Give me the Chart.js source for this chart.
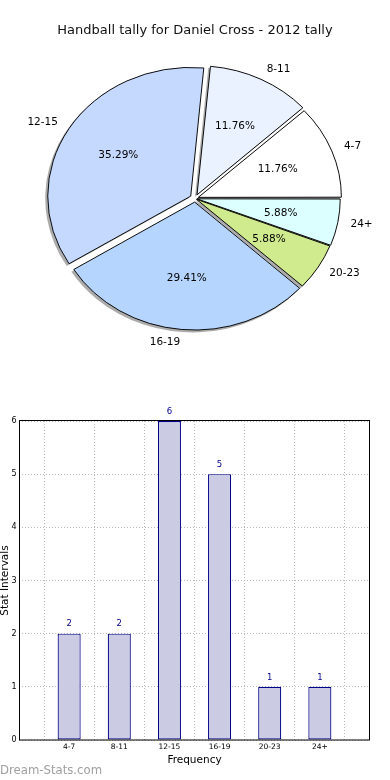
<!DOCTYPE html>
<html><head><meta charset="utf-8">
<script src="https://cdn.jsdelivr.net/npm/chart.js@4.4.0/dist/chart.umd.min.js"></script>
<style>
html,body{margin:0;padding:0;background:#fff;width:390px;height:780px;overflow:hidden;font-family:"DejaVu Sans",sans-serif}
#pieBox{position:absolute;left:0;top:0;width:390px;height:397px}
#title{position:absolute;left:0;top:21px;width:390px;text-align:center;font-size:13px;color:#111;line-height:18px}
#barBox{position:absolute;left:0;top:400px;width:390px;height:380px}
#wm{position:absolute;left:0;top:762px;font-size:11.7px;color:#a0a0a0;line-height:16px}
</style></head><body>
<div id="pieBox"><canvas id="pie"></canvas></div>
<div id="title">Handball tally for Daniel Cross - 2012 tally</div>
<div id="barBox"><canvas id="bar"></canvas></div>
<div id="wm">Dream-Stats.com</div>
<script>
// ---- data ----
const categories = ['4-7', '8-11', '12-15', '16-19', '20-23', '24+'];
const counts = [2, 2, 6, 5, 1, 1];
const yTicks = [0, 1, 2, 3, 4, 5, 6];
const pieTitle = 'Handball tally for Daniel Cross - 2012 tally';

// ---- styles ----
const FONT = '"DejaVu Sans", sans-serif';
const sliceColors = ['#ffffff', '#ebf2ff', '#c5d9ff', '#b5d5ff', '#d0eb8e', '#dcffff'];
const Y_RATIO = 0.9;
const rev = a => a.slice().reverse();
const total = counts.reduce((a, b) => a + b, 0);

function arcGeom(arc) {
  const p = arc.getProps(['x', 'y', 'startAngle', 'endAngle', 'outerRadius']);
  const off = (arc.options.offset || 0) / 4;
  const mid = (p.startAngle + p.endAngle) / 2;
  const fix = 1 - Math.sin(Math.min(Math.PI, p.endAngle - p.startAngle));
  return {x: p.x, y: p.y, ox: off * Math.cos(mid), oy: off * Math.sin(mid), mid,
          s: p.startAngle, e: p.endAngle, R: p.outerRadius + off * fix, R0: p.outerRadius};
}

const ellipsePlugin = {
  id: 'ellipse',
  beforeDatasetsDraw(chart) {
    const meta = chart.getDatasetMeta(0);
    const ctx = chart.ctx;
    const cx = meta.data[0].x, cy = meta.data[0].y;
    ctx.save();
    ctx.translate(-2, 2);
    ctx.translate(cx, cy); ctx.scale(1, Y_RATIO); ctx.translate(-cx, -cy);
    ctx.fillStyle = 'rgba(70,70,70,0.45)';
    meta.data.forEach(arc => {
      const g = arcGeom(arc);
      const x = g.x + g.ox, y = g.y + g.oy;
      ctx.beginPath(); ctx.moveTo(x, y); ctx.arc(x, y, g.R + 0.5, g.s, g.e); ctx.closePath(); ctx.fill();
    });
    ctx.restore();
    ctx.save();
    ctx.translate(cx, cy); ctx.scale(1, Y_RATIO); ctx.translate(-cx, -cy);
  },
  afterDatasetsDraw(chart) {
    const ctx = chart.ctx;
    ctx.restore();
    const meta = chart.getDatasetMeta(0);
    const n = meta.data.length;
    ctx.save();
    ctx.font = '10.5px ' + FONT;
    ctx.fillStyle = '#000';
    ctx.textBaseline = 'middle';
    meta.data.forEach((arc, i) => {
      const idx = n - 1 - i;
      const g = arcGeom(arc);
      const c = Math.cos(g.mid), s = Math.sin(g.mid);
      const px = g.x + g.ox + 0.6 * g.R0 * c;
      const py = g.y + Y_RATIO * (g.oy + 0.6 * g.R0 * s);
      ctx.textAlign = 'center';
      ctx.fillText((counts[idx] / total * 100).toFixed(2) + '%', px, py);
      const lx = g.x + g.ox + 1.1 * g.R0 * c;
      const ly = g.y + Y_RATIO * (g.oy + 1.1 * g.R0 * s);
      ctx.textAlign = c > 0 ? 'left' : 'right';
      ctx.fillText(categories[idx], lx, ly);
    });
    ctx.restore();
  }
};

new Chart(document.getElementById('pie'), {
  type: 'pie',
  data: {
    labels: rev(categories),
    datasets: [{
      data: rev(counts),
      backgroundColor: rev(sliceColors),
      borderColor: '#000',
      borderWidth: 1,
      borderJoinStyle: 'miter',
      offset: rev([14, 18, 20, 16, 7, 8])
    }]
  },
  options: {
    responsive: true, maintainAspectRatio: false, animation: false, events: [],
    rotation: 90,
    radius: 142,
    layout: {padding: 0},
    plugins: {legend: {display: false}, tooltip: {enabled: false}, title: {display: false}}
  },
  plugins: [ellipsePlugin]
});

// ---- bar chart ----
const framePlugin = {
  id: 'frame',
  afterDraw(chart) {
    const {ctx, chartArea: a} = chart;
    ctx.save();
    ctx.strokeStyle = '#000';
    ctx.lineWidth = 1;
    ctx.strokeRect(Math.round(a.left) + 0.5, Math.round(a.top) - 0.5, Math.round(a.right - a.left) - 1, Math.round(a.bottom - a.top) + 0.5);
    ctx.restore();
  }
};
const valuePlugin = {
  id: 'values',
  afterDatasetsDraw(chart) {
    const ctx = chart.ctx;
    const meta = chart.getDatasetMeta(0);
    ctx.save();
    ctx.font = '8.5px ' + FONT;
    ctx.fillStyle = '#00008b';
    ctx.textAlign = 'center';
    ctx.textBaseline = 'middle';
    meta.data.forEach((bar, i) => {
      ctx.fillText(String(counts[i]), bar.x, bar.y - 9.5);
    });
    ctx.restore();
  }
};

new Chart(document.getElementById('bar'), {
  type: 'bar',
  data: {
    datasets: [{
      data: categories.map((c, i) => ({x: i, y: counts[i]})),
      backgroundColor: '#cbcbe4',
      borderColor: '#000088',
      borderWidth: 1.2,
      borderSkipped: false,
      barPercentage: 0.46,
      categoryPercentage: 1
    }]
  },
  options: {
    responsive: true, maintainAspectRatio: false, animation: false, events: [],
    layout: {padding: {left: 0, right: 20, top: 21, bottom: 0}},
    plugins: {legend: {display: false}, tooltip: {enabled: false}},
    scales: {
      x: {
        type: 'linear', min: -1, max: categories.length, offset: false, z: 1,
        afterFit: s => { s.height = 40; },
        ticks: {stepSize: 1, autoSkip: false, maxRotation: 0, padding: 3, color: '#000',
                font: {size: 7.5, family: FONT},
                callback: v => (categories[v] !== undefined ? categories[v] : '')},
        grid: {color: '#b8b8b8', lineWidth: 1, drawTicks: false},
        border: {display: false, dash: [1, 2]},
        title: {display: true, text: 'Frequency', color: '#000', font: {size: 10.5, family: FONT}, padding: {top: 0, bottom: 13.7}}
      },
      y: {
        min: 0, max: 6, z: 1,
        afterFit: s => { s.width = 19; },
        afterBuildTicks: s => { s.ticks = yTicks.map(v => ({value: v})); },
        ticks: {stepSize: 1, padding: 2.5, color: '#000', font: {size: 8, family: FONT}},
        grid: {color: '#b8b8b8', lineWidth: 1, drawTicks: false},
        border: {display: false, dash: [1, 2]},
        title: {display: true, text: 'Stat Intervals', color: '#000', font: {size: 10.5, family: FONT, lineHeight: 0.95}, padding: {top: 0, bottom: 0}}
      }
    }
  },
  plugins: [framePlugin, valuePlugin]
});
</script>
</body></html>
